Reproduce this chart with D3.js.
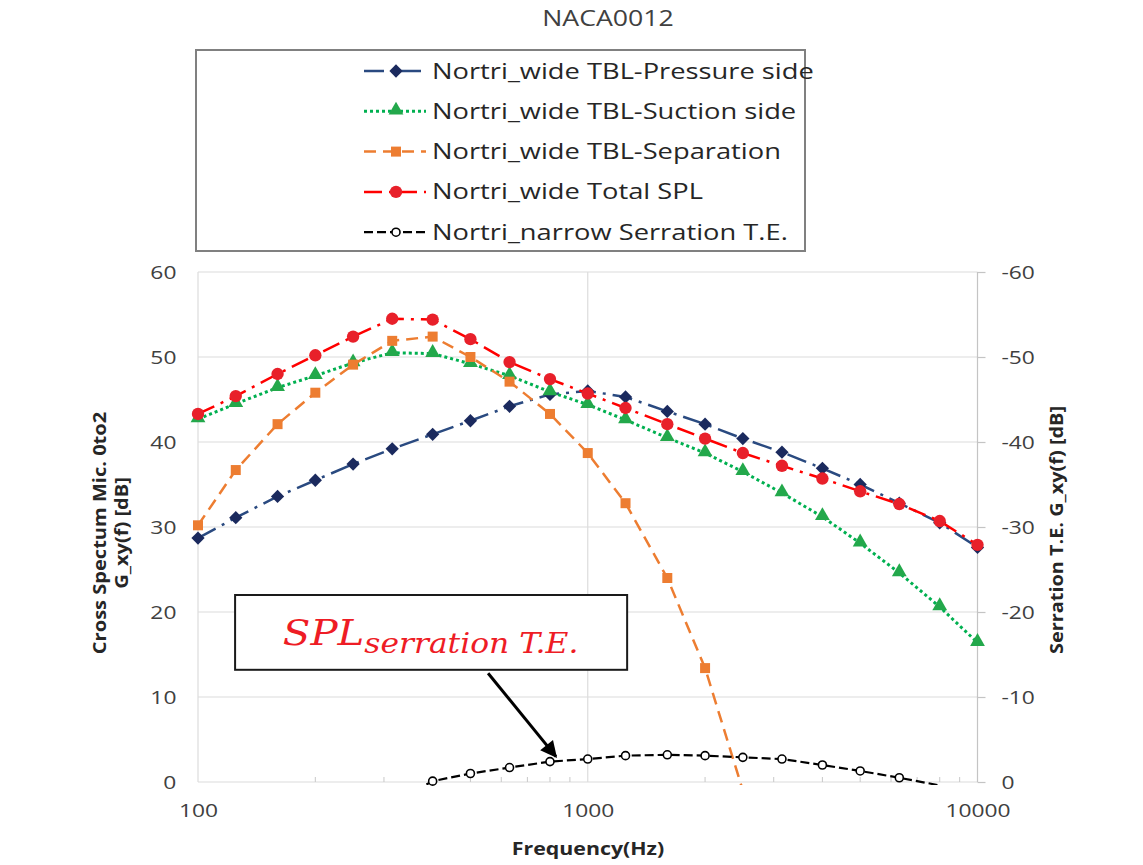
<!DOCTYPE html>
<html>
<head>
<meta charset="utf-8">
<script src="https://cdn.jsdelivr.net/npm/d3@7"></script>
<style>
  body { margin: 0; background: #fff; }
  svg { font-family: "Open Sans", sans-serif; }
</style>
</head>
<body>
<div id="chart"></div>
<script>
// 1/3 octave band centre frequencies
const freqs = [100, 125, 160, 200, 250, 315, 400, 500, 630, 800, 1000, 1250, 1600, 2000, 2500, 3150, 4000, 5000, 6300, 8000, 10000];

const pressureSide = [28.7, 31.1, 33.6, 35.5, 37.4, 39.2, 40.9, 42.5, 44.2, 45.6, 46.0, 45.3, 43.6, 42.1, 40.4, 38.8, 36.9, 35.0, 32.8, 30.5, 27.6];
const suctionSide  = [42.7, 44.5, 46.4, 47.8, 49.3, 50.5, 50.4, 49.2, 47.8, 45.9, 44.4, 42.6, 40.5, 38.7, 36.5, 34.0, 31.2, 28.1, 24.6, 20.6, 16.4];
const separation   = [30.2, 36.7, 42.1, 45.8, 49.1, 51.9, 52.4, 50.0, 47.1, 43.3, 38.7, 32.8, 24.0, 13.4, -1.0];
const totalSPL     = [43.3, 45.4, 48.0, 50.2, 52.4, 54.5, 54.4, 52.1, 49.4, 47.4, 45.7, 44.0, 42.1, 40.4, 38.7, 37.2, 35.7, 34.2, 32.7, 30.7, 27.9];
// serration series is plotted on the secondary (reversed) axis, starts at 315 Hz
const serrationFreqs = [315, 400, 500, 630, 800, 1000, 1250, 1600, 2000, 2500, 3150, 4000, 5000, 6300, 8000];
const serrationTE    = [2.5, -0.1, -1.0, -1.7, -2.4, -2.7, -3.1, -3.2, -3.1, -2.9, -2.7, -2.0, -1.3, -0.5, 0.4];

const xTicks = [100, 1000, 10000];
const yTicks = [0, 10, 20, 30, 40, 50, 60];
const y2Ticks = [0, -10, -20, -30, -40, -50, -60];

const legendLabels = [
  "Nortri_wide TBL-Pressure side",
  "Nortri_wide TBL-Suction side",
  "Nortri_wide TBL-Separation",
  "Nortri_wide Total SPL",
  "Nortri_narrow Serration T.E."
];

const W = 1143, H = 865;
const SX = 1.2; // the picture is a bit stretched sideways

const plot = {left: 198, right: 977.5, top: 272, bottom: 782};

const x = d3.scaleLog().domain([100, 10000]).range([plot.left, plot.right]);
const y = d3.scaleLinear().domain([0, 60]).range([plot.bottom, plot.top]);
const y2 = d3.scaleLinear().domain([0, -60]).range([plot.bottom, plot.top]);

const svg = d3.select("#chart").append("svg")
  .attr("width", W).attr("height", H);

const defs = svg.append("defs");
defs.append("clipPath").attr("id", "clip")
  .append("rect")
  .attr("x", plot.left - 1).attr("y", plot.top)
  .attr("width", plot.right - plot.left + 2).attr("height", plot.bottom - plot.top + 3);

// gridlines
svg.append("g").selectAll("line").data(yTicks).join("line")
  .attr("x1", plot.left).attr("x2", plot.right)
  .attr("y1", d => y(d)).attr("y2", d => y(d))
  .attr("stroke", "#dcdcdc").attr("stroke-width", 1.2);
svg.append("g").selectAll("line").data(xTicks).join("line")
  .attr("x1", d => x(d)).attr("x2", d => x(d))
  .attr("y1", plot.top).attr("y2", plot.bottom)
  .attr("stroke", d => d === 10000 ? "#c4c4c4" : "#dcdcdc").attr("stroke-width", 1.2);

// minor ticks on the frequency axis
const minor = [];
[100, 1000].forEach(dec => { for (let k = 2; k <= 9; k++) minor.push(dec * k); });
svg.append("g").selectAll("line").data(minor).join("line")
  .attr("x1", d => x(d)).attr("x2", d => x(d))
  .attr("y1", plot.bottom).attr("y2", plot.bottom - 5)
  .attr("stroke", "#c8c8c8").attr("stroke-width", 1);

// axes
const gx = svg.append("g").attr("transform", `translate(0,${plot.bottom})`)
  .call(d3.axisBottom(x).tickValues(xTicks).tickFormat(d => String(d)).tickSize(0).tickPadding(22));
const gy = svg.append("g").attr("transform", `translate(${plot.left},0)`)
  .call(d3.axisLeft(y).tickValues(yTicks).tickFormat(d => String(d)).tickSize(0).tickPadding(18));
const gy2 = svg.append("g").attr("transform", `translate(${plot.right},0)`)
  .call(d3.axisRight(y2).tickValues(y2Ticks).tickFormat(d => String(d)).tickSize(8).tickSizeOuter(0).tickPadding(12));

[gx, gy, gy2].forEach(g => {
  g.select(".domain").remove();
  g.selectAll("text")
    .attr("font-family", "Open Sans").attr("font-size", 19).attr("fill", "#404040")
    .attr("transform", `scale(${SX},1)`);
});
gy2.selectAll(".tick line").attr("stroke", "#c4c4c4").attr("stroke-width", 1.2);

function stretchedText(x0, y0, txt, size, opts = {}) {
  return svg.append("text")
    .attr("transform", `translate(${x0},${y0}) ${opts.rotate ? "rotate(-90)" : ""} scale(${opts.sx || SX},1)`)
    .attr("text-anchor", opts.anchor || "middle")
    .attr("font-size", size)
    .attr("font-weight", opts.weight || "normal")
    .attr("fill", opts.fill || "#404040")
    .text(txt);
}

// title and axis titles
stretchedText(608, 26, "NACA0012", 21, {sx: 1.27});
stretchedText(588, 855, "Frequency(Hz)", 17.5, {weight: "bold", fill: "#262626", sx: 1.22});
stretchedText(106, 533, "Cross Spectum Mic. 0to2", 17, {weight: "bold", fill: "#262626", sx: 1.18, rotate: true});
stretchedText(128, 533, "G_xy(f) [dB]", 17, {weight: "bold", fill: "#262626", sx: 1.18, rotate: true});
stretchedText(1063, 530, "Serration T.E. G_xy(f) [dB]", 17, {weight: "bold", fill: "#262626", sx: 1.17, rotate: true});

// series
const series = [
  {name: legendLabels[0], xs: freqs, ys: pressureSide, scale: y, line: "#2a4a80", fill: "#1b2a5e", dash: "20,7,3,7", width: 2.5, marker: "diamond"},
  {name: legendLabels[1], xs: freqs, ys: suctionSide, scale: y, line: "#00b050", fill: "#23a84b", dash: "3,3", width: 3, marker: "triangle"},
  {name: legendLabels[2], xs: freqs, ys: separation, scale: y, line: "#ed7d31", fill: "#ed7d31", dash: "12,7", width: 2.5, marker: "square"},
  {name: legendLabels[3], xs: freqs, ys: totalSPL, scale: y, line: "#ff0000", fill: "#e8202a", dash: "18,7,3,7", width: 2.5, marker: "circle"},
  {name: legendLabels[4], xs: serrationFreqs, ys: serrationTE, scale: y2, line: "#000000", fill: "#ffffff", dash: "9,4", width: 2.2, marker: "open"}
];

function drawMarker(g, type, s) {
  if (type === "diamond") {
    g.append("path").attr("d", d3.symbol(d3.symbolSquare, 88)()).attr("transform", "rotate(45)").attr("fill", s.fill);
  } else if (type === "triangle") {
    g.append("path").attr("d", d3.symbol(d3.symbolTriangle, 95)()).attr("transform", "translate(0,-1)").attr("fill", s.fill);
  } else if (type === "square") {
    g.append("path").attr("d", d3.symbol(d3.symbolSquare, 100)()).attr("fill", s.fill);
  } else if (type === "circle") {
    g.append("path").attr("d", d3.symbol(d3.symbolCircle, 120)()).attr("fill", s.fill);
  } else {
    g.append("circle").attr("r", 4).attr("fill", "#fff").attr("stroke", "#000").attr("stroke-width", 1.6);
  }
}

series.forEach(s => {
  const pts = s.xs.map((f, i) => ({f, v: s.ys[i]}));
  const line = d3.line().x(d => x(d.f)).y(d => s.scale(d.v));
  svg.append("path")
    .datum(pts)
    .attr("clip-path", "url(#clip)")
    .attr("d", line)
    .attr("fill", "none")
    .attr("stroke", s.line)
    .attr("stroke-width", s.width)
    .attr("stroke-dasharray", s.dash);
  const [a, b] = s.scale.domain();
  const inside = pts.filter(d => d.v >= Math.min(a, b) && d.v <= Math.max(a, b));
  svg.append("g").selectAll("g").data(inside).join("g")
    .attr("transform", d => `translate(${x(d.f)},${s.scale(d.v)})`)
    .each(function() { drawMarker(d3.select(this), s.marker, s); });
});

// legend
const legend = svg.append("g");
legend.append("rect")
  .attr("x", 196).attr("y", 50).attr("width", 609).attr("height", 201)
  .attr("fill", "#fff").attr("stroke", "#808080").attr("stroke-width", 2);
series.forEach((s, i) => {
  const ly = 71 + i * 40.3;
  legend.append("line")
    .attr("x1", 364).attr("x2", 426).attr("y1", ly).attr("y2", ly)
    .attr("stroke", s.line).attr("stroke-width", s.width).attr("stroke-dasharray", s.dash);
  const mg = legend.append("g").attr("transform", `translate(396,${ly})`);
  drawMarker(mg, s.marker, s);
  legend.append("text")
    .attr("transform", `translate(432,${ly + 7.5}) scale(1.3,1)`)
    .attr("font-size", 21).attr("fill", "#262626")
    .text(s.name);
});

// annotation box with arrow, anchored in data space
const note = {f0: 124.5, f1: 1262, v0: 22.0, v1: 13.2, textF: 165, textV: 16.1, fromF: 555, fromV: 12.8, toF: 800, toIdx: 4};
const ann = svg.append("g");
ann.append("rect")
  .attr("x", x(note.f0)).attr("y", y(note.v0))
  .attr("width", x(note.f1) - x(note.f0)).attr("height", y(note.v1) - y(note.v0))
  .attr("fill", "#fff").attr("stroke", "#1a1a1a").attr("stroke-width", 2);
const t = ann.append("text")
  .attr("transform", `translate(${x(note.textF)},${y(note.textV)}) scale(1.12,1)`)
  .style("font-family", "'DejaVu Serif', serif").style("font-style", "italic").attr("fill", "#ee1c25");
t.append("tspan").attr("font-size", 36).text("SPL");
t.append("tspan").attr("font-size", 28).attr("dy", 8).text("serration T.E.");

defs.append("marker")
  .attr("id", "arrow").attr("viewBox", "0 0 10 10")
  .attr("refX", 9).attr("refY", 5)
  .attr("markerWidth", 6).attr("markerHeight", 5.5)
  .attr("markerUnits", "strokeWidth")
  .attr("orient", "auto")
  .append("path").attr("d", "M0,0 L10,5 L0,10 Z").attr("fill", "#000");
const tipX = x(note.toF) + 6, tipY = y2(serrationTE[note.toIdx]) - 5;
ann.append("line")
  .attr("x1", x(note.fromF)).attr("y1", y(note.fromV))
  .attr("x2", tipX).attr("y2", tipY)
  .attr("stroke", "#000").attr("stroke-width", 3)
  .attr("marker-end", "url(#arrow)");
</script>
</body>
</html>
